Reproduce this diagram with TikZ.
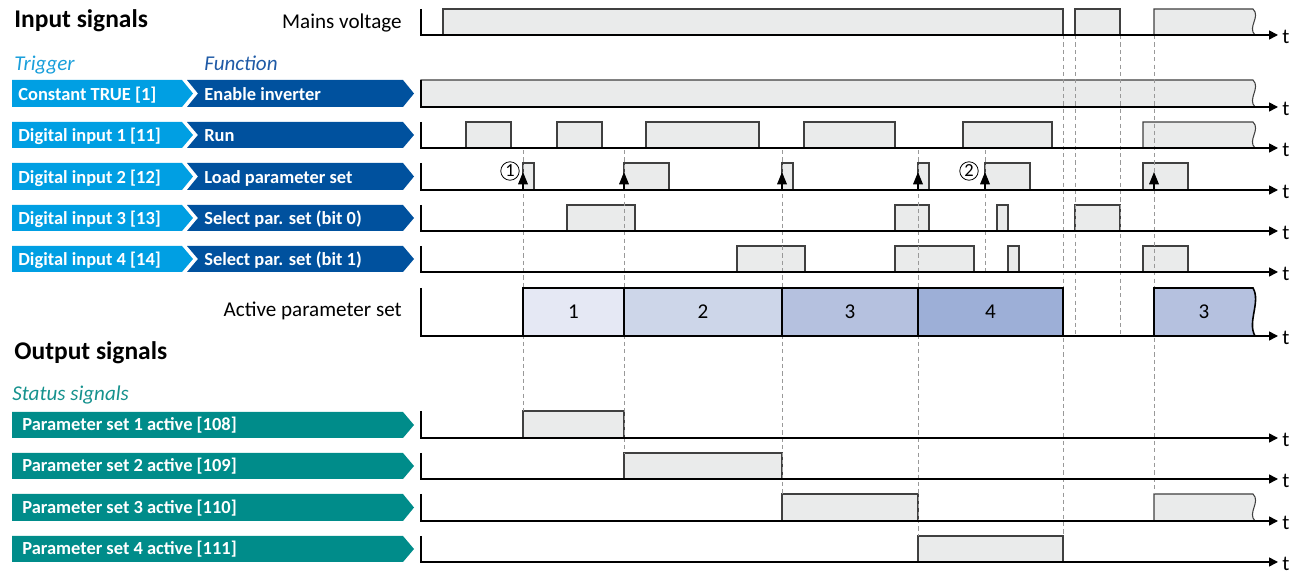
\documentclass[tikz,border=0pt]{standalone}
\usepackage{fontspec}
\setmainfont{Carlito}
\usetikzlibrary{arrows.meta}
\definecolor{trigblue}{HTML}{009FE3}
\definecolor{funcblue}{HTML}{00519E}
\definecolor{statteal}{HTML}{008C8A}
\definecolor{trigtext}{HTML}{1A9FDB}
\definecolor{functext}{HTML}{1F5AA6}
\definecolor{stattext}{HTML}{16928E}
\definecolor{sigfill}{HTML}{EAEBEB}
\definecolor{setA}{HTML}{E5E8F4}
\definecolor{setB}{HTML}{CDD6E9}
\definecolor{setC}{HTML}{B5C1DF}
\definecolor{setD}{HTML}{9DAFD7}
\tikzset{
  axis/.style={line width=0.85pt, -{Triangle[length=5pt,width=5pt]}},
  flank/.style={line width=0.7pt, -{Triangle[length=7pt,width=5.5pt]}},
  sigbox/.style={fill=sigfill, draw=black!75, line width=0.6pt},
  setbox/.style={draw=black, line width=0.9pt},
  guide/.style={draw=black!40, dash pattern=on 2.4pt off 1.8pt, line width=0.5pt},
  bantxt/.style={anchor=base west, text=white, inner sep=0pt, font=\fontsize{10.5}{12}\selectfont\bfseries},
  head/.style={anchor=base west, inner sep=0pt, font=\fontsize{14.5}{17}\selectfont\bfseries},
  sub/.style={anchor=base west, inner sep=0pt, font=\fontsize{12}{14}\selectfont\itshape},
  lbl/.style={anchor=base east, inner sep=0pt, font=\fontsize{12}{14}\selectfont},
  setnum/.style={anchor=base, inner sep=0pt, font=\fontsize{12}{14}\selectfont},
  tlbl/.style={anchor=base west, inner sep=0pt, font=\fontsize{12}{14}\selectfont},
  circnum/.style={draw, circle, line width=0.45pt, inner sep=0.6pt, minimum size=10.5pt, font=\fontsize{10.5}{11}\selectfont},
}
\begin{document}
\begin{tikzpicture}[x=0.02cm, y=-0.02cm]
\useasboundingbox (0,0) rectangle (1291,573);
%Titres
\node[head] (insig) at (14,28) {Input signals};
\node[head] (outsig) at (14,360) {Output signals};
\node[lbl] (mains) at (402,29) {Mains voltage};
\node[lbl] (actset) at (402,317) {Active parameter set};
\node[sub, text=trigtext] (trigger) at (14,71) {Trigger};
\node[sub, text=functext] (function) at (204,71) {Function};
\node[sub, text=stattext] (status) at (12,401) {Status signals};
%Bandeaux des entrées
\foreach \nm/\tp/\bt/\tr/\fn in {enable/80/107/{Constant TRUE [1]}/{Enable inverter},
    run/122/148/{Digital input 1 [11]}/{Run},
    load/163/190/{Digital input 2 [12]}/{Load parameter set},
    bitA/205/231/{Digital input 3 [13]}/{Select par. set (bit 0)},
    bitB/246/272/{Digital input 4 [14]}/{Select par. set (bit 1)}}{
  \fill[trigblue] (12,\tp) -- (182,\tp) -- (193,{(\tp+\bt)/2}) -- (182,\bt) -- (12,\bt) -- cycle;
  \fill[funcblue] (187,\tp) -- (403,\tp) -- (414,{(\tp+\bt)/2}) -- (403,\bt) -- (187,\bt) -- (198,{(\tp+\bt)/2}) -- cycle;
  \node[bantxt] (trig\nm) at (18,\bt-6) {\tr};
  \node[bantxt] (func\nm) at (204,\bt-6) {\fn};
}
%Bandeaux des sorties
\foreach \nm/\tp/\bt/\st in {psA/412/438/{Parameter set 1 active [108]},
    psB/453/479/{Parameter set 2 active [109]},
    psC/494/521/{Parameter set 3 active [110]},
    psD/536/562/{Parameter set 4 active [111]}}{
  \fill[statteal] (12,\tp) -- (403,\tp) -- (414,{(\tp+\bt)/2}) -- (403,\bt) -- (12,\bt) -- cycle;
  \node[bantxt] (stat\nm) at (22,\bt-7) {\st};
}
%Impulsions
\foreach \a/\b/\tp/\ax in {443/1063/9/35, 1075/1120/9/35,
    466/511/122/148, 557/602/122/148, 646/759/122/148, 804/895/122/148, 963/1052/122/148,
    523/534/163/190, 624/669/163/190, 782/793/163/190, 918/929/163/190, 985/1030/163/190, 1143/1188/163/190,
    567/635/205/231, 895/929/205/231, 997/1008/205/231, 1075/1120/205/231,
    737/805/246/272, 895/974/246/272, 1008/1019/246/272, 1143/1188/246/272,
    523/624/411/438, 624/782/453/479, 782/918/494/521, 918/1063/536/562}
  \draw[sigbox] (\a,\ax) rectangle (\b,\tp);
\foreach \a/\tp/\ax in {1154/9/35, 421/80/107, 1143/122/148, 1154/494/521}
  \draw[sigbox] (\a,\ax) -- (\a,\tp) -- (1253,\tp) .. controls (1261,{\tp+0.3*(\ax-\tp)}) and (1247,{\tp+0.7*(\ax-\tp)}) .. (1255,\ax);
%Repères
\foreach \x/\a/\b in {523/150/411, 624/150/453, 782/150/494, 918/150/536, 985/150/272,
    1063/35/536, 1075/35/336, 1120/35/336, 1154/35/494}
  \draw[guide] (\x,\a) -- (\x,\b);
%Jeu de paramètres actif
\foreach \a/\b/\c/\n in {523/624/setA/1, 624/782/setB/2, 782/918/setC/3, 918/1063/setD/4}{
  \draw[setbox, fill=\c] (\a,336) rectangle (\b,288);
  \node[setnum] (set\n) at ({(\a+\b)/2},319) {\n};
}
\draw[setbox, fill=setC] (1154,336) -- (1154,288) -- (1253,288) .. controls (1261,302) and (1247,322) .. (1255,336);
\node[setnum] (setE) at (1204,319) {3};
%Axes
\foreach \nm/\tp/\ax in {mains/9/35, enable/80/107, run/122/148, load/163/190, bitA/205/231, bitB/246/272,
    active/288/336, psA/411/438, psB/453/479, psC/494/521, psD/536/562}{
  \coordinate (o\nm) at (421,\ax);
  \coordinate (e\nm) at (1278,\ax);
  \draw[axis] (421,\tp) -- (o\nm) -- (e\nm);
  \node[tlbl] (t\nm) at (1282,\ax+8.5) {t};
}
%Fronts montants
\foreach \x in {523,624,782,918,985,1154}
  \draw[flank] (\x,190) -- (\x,172);
\node[circnum] (noteA) at (510,171) {1};
\node[circnum] (noteB) at (969,171) {2};
\end{tikzpicture}
\end{document}
